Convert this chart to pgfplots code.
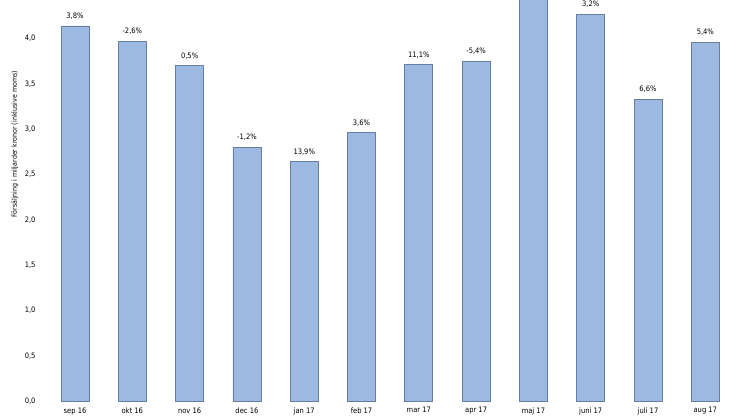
\documentclass[border=0pt]{standalone}
\usepackage{fontspec}
\setmainfont{DejaVu Sans Condensed}
\usepackage{pgfplots}
\pgfplotsset{compat=1.18}
\usepackage{pgfplotstable}
\definecolor{barfill}{RGB}{155,185,225}
\definecolor{baredge}{RGB}{105,125,160}
\pgfplotstableread{
x y lab
0 4.14 3,8\%
1 3.97 -2,6\%
2 3.70 0,5\%
3 2.80 -1,2\%
4 2.64 13,9\%
5 2.96 3,6\%
6 3.71 11,1\%
7 3.75 -5,4\%
8 4.60 {}
9 4.27 3,2\%
10 3.33 6,6\%
11 3.96 5,4\%
}\data
\begin{document}
\begin{tikzpicture}
\begin{axis}[
  scale only axis, width=701bp, height=401bp,
  xmin=-0.524, xmax=11.71, ymin=0, ymax=4.426,
  axis line style={draw=none}, major tick length=0pt,
  xtick={0,...,11},
  xticklabels={sep 16,okt 16,nov 16,dec 16,jan 17,feb 17,mar 17,apr 17,maj 17,juni 17,juli 17,aug 17},
  ytick={0,0.5,...,4},
  /pgf/number format/fixed, /pgf/number format/fixed zerofill, /pgf/number format/precision=1,
  /pgf/number format/use comma, /pgf/number format/assume math mode=true,
  yticklabel style={xshift=-6bp},
  xticklabel style={yshift=-3bp},
  tick label style={font=\fontsize{7.5bp}{9bp}\selectfont},
  ylabel={Försäljning i miljarder kronor (inklusive moms)},
  every axis y label/.style={at={(rel axis cs:0,0.64)}, xshift=-30bp, rotate=90, anchor=center, font=\fontsize{7bp}{9bp}\selectfont},
]
\addplot[ybar, bar width=28bp, fill=barfill, draw=baredge, line width=0.8bp,
  nodes near coords, point meta=explicit symbolic,
  every node near coord/.style={font=\fontsize{7.5bp}{9bp}\selectfont, black, anchor=south, yshift=3bp}]
  table[x=x,y=y,meta=lab]{\data};
\end{axis}
\pgfresetboundingbox
\path[use as bounding box] ([xshift=-45bp,yshift=-18bp]current axis.south west) rectangle (current axis.north east);
\end{tikzpicture}
\end{document}
